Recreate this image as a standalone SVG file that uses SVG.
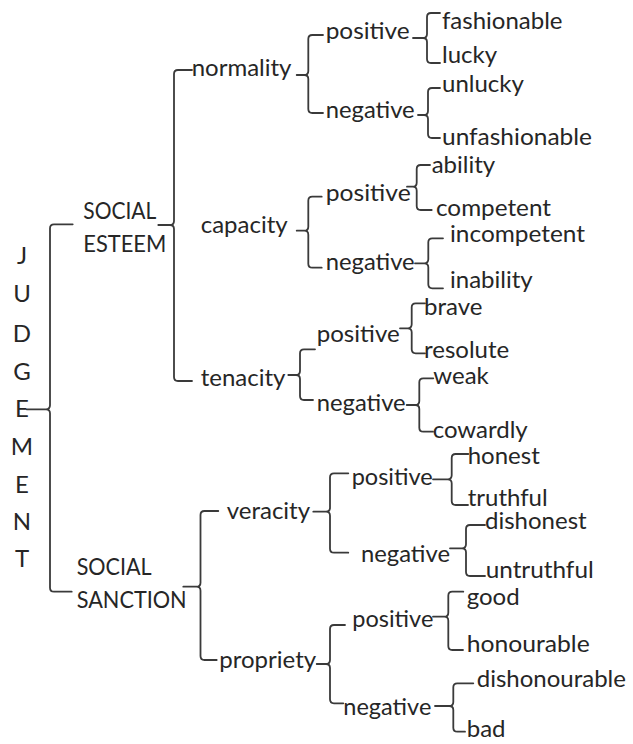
<svg xmlns="http://www.w3.org/2000/svg" width="633" height="744" viewBox="0 0 633 744">
  <style>
    text { font-family: Lato, "Liberation Sans", sans-serif; font-size: 24px; fill: #262626; }
    .mid { text-anchor: middle; }
    .brace { fill: none; stroke: #3a3a3a; stroke-width: 1.8; stroke-linecap: round; stroke-linejoin: round; }
  </style>
  <rect width="633" height="744" fill="#ffffff"/>

  <!-- curly-brace connectors -->
  <g id="connectors">
    <path class="brace" d="M72.7 224.3 H54 Q50 224.3 50 228.3 V405.3 Q50 409.3 46 409.3 H26.7 M46 409.3 Q50 409.3 50 413.3 V587.7 Q50 591.7 54 591.7 H71.7"/>
    <path class="brace" d="M192 70 H178 Q174 70 174 74 V221 Q174 225 170 225 H158.3 M170 225 Q174 225 174 229 V377 Q174 381 178 381 H192"/>
    <path class="brace" d="M323 35 H312.3 Q308.3 35 308.3 39 V71 Q308.3 75 304.3 75 H296.7 M304.3 75 Q308.3 75 308.3 79 V109 Q308.3 113 312.3 113 H323"/>
    <path class="brace" d="M440 13 H431 Q427 13 427 17 V34 Q427 38 423 38 H413 M423 38 Q427 38 427 42 V59 Q427 63 431 63 H440"/>
    <path class="brace" d="M440 88 H432 Q428 88 428 92 V111 Q428 115 424 115 H418 M424 115 Q428 115 428 119 V134 Q428 138 432 138 H440"/>
    <path class="brace" d="M321.7 196.7 H312.3 Q308.3 196.7 308.3 200.7 V226.7 Q308.3 230.7 304.3 230.7 H296.7 M304.3 230.7 Q308.3 230.7 308.3 234.7 V263.7 Q308.3 267.7 312.3 267.7 H321.7"/>
    <path class="brace" d="M430 165 H420.7 Q416.7 165 416.7 169 V182.7 Q416.7 186.7 412.7 186.7 H407 M412.7 186.7 Q416.7 186.7 416.7 190.7 V206 Q416.7 210 420.7 210 H431.7"/>
    <path class="brace" d="M443 238.3 H432.3 Q428.3 238.3 428.3 242.3 V259.3 Q428.3 263.3 424.3 263.3 H415 M424.3 263.3 Q428.3 263.3 428.3 267.3 V284.3 Q428.3 288.3 432.3 288.3 H443"/>
    <path class="brace" d="M315 349.3 H304 Q300 349.3 300 353.3 V371 Q300 375 296 375 H288.3 M296 375 Q300 375 300 379 V396 Q300 400 304 400 H313"/>
    <path class="brace" d="M425 303.3 H415.7 Q411.7 303.3 411.7 307.3 V324.3 Q411.7 328.3 407.7 328.3 H400 M407.7 328.3 Q411.7 328.3 411.7 332.3 V349.3 Q411.7 353.3 415.7 353.3 H425"/>
    <path class="brace" d="M433.3 378.3 H423.3 Q419.3 378.3 419.3 382.3 V401 Q419.3 405 415.3 405 H406.7 M415.3 405 Q419.3 405 419.3 409 V427.7 Q419.3 431.7 423.3 431.7 H433"/>
    <path class="brace" d="M218.3 511 H204.5 Q200.5 511 200.5 515 V582.7 Q200.5 586.7 196.5 586.7 H183.3 M196.5 586.7 Q200.5 586.7 200.5 590.7 V656 Q200.5 660 204.5 660 H216.7"/>
    <path class="brace" d="M348.3 473.3 H334 Q330 473.3 330 477.3 V507.7 Q330 511.7 326 511.7 H313.3 M326 511.7 Q330 511.7 330 515.7 V548.7 Q330 552.7 334 552.7 H348.3"/>
    <path class="brace" d="M468.3 454 H455.7 Q451.7 454 451.7 458 V475.3 Q451.7 479.3 447.7 479.3 H433 M447.7 479.3 Q451.7 479.3 451.7 483.3 V501 Q451.7 505 455.7 505 H468"/>
    <path class="brace" d="M485 525 H470 Q466 525 466 529 V544.3 Q466 548.3 462 548.3 H450 M462 548.3 Q466 548.3 466 552.3 V572 Q466 576 470 576 H485"/>
    <path class="brace" d="M345 625 H334 Q330 625 330 629 V660 Q330 664 326 664 H316.7 M326 664 Q330 664 330 668 V699.3 Q330 703.3 334 703.3 H343.3"/>
    <path class="brace" d="M463.3 591.7 H452.3 Q448.3 591.7 448.3 595.7 V612.7 Q448.3 616.7 444.3 616.7 H433 M444.3 616.7 Q448.3 616.7 448.3 620.7 V646 Q448.3 650 452.3 650 H463"/>
    <path class="brace" d="M473.3 683.3 H457.3 Q453.3 683.3 453.3 687.3 V702 Q453.3 706 449.3 706 H435 M449.3 706 Q453.3 706 453.3 710 V727.7 Q453.3 731.7 457.3 731.7 H465"/>
  </g>

  <!-- root, written vertically -->
  <g id="judgement">
    <text class="mid" x="22" y="263.5">J</text>
    <text class="mid" x="22" y="301.7">U</text>
    <text class="mid" x="22" y="341.7">D</text>
    <text class="mid" x="22" y="380">G</text>
    <text class="mid" x="22" y="416.7">E</text>
    <text class="mid" x="22" y="455">M</text>
    <text class="mid" x="22" y="493.3">E</text>
    <text class="mid" x="22" y="530">N</text>
    <text class="mid" x="22" y="566.7">T</text>
  </g>

  <g id="social-esteem">
    <text x="83.3" y="219.3" textLength="73" lengthAdjust="spacingAndGlyphs">SOCIAL</text>
    <text x="83.3" y="251.7" textLength="83" lengthAdjust="spacingAndGlyphs">ESTEEM</text>
  </g>
  <g id="social-sanction">
    <text x="76.7" y="575" textLength="75" lengthAdjust="spacingAndGlyphs">SOCIAL</text>
    <text x="76.7" y="607.7" textLength="110" lengthAdjust="spacingAndGlyphs">SANCTION</text>
  </g>

  <g id="normality"><text x="191.7" y="76">normality</text></g>
  <g id="capacity"><text x="200.7" y="232.7">capacity</text></g>
  <g id="tenacity"><text x="200.7" y="385.7">tenacity</text></g>
  <g id="veracity"><text x="226.7" y="519">veracity</text></g>
  <g id="propriety"><text x="219.3" y="668.3">propriety</text></g>

  <g id="normality-positive"><text x="325.7" y="39.3" textLength="84" lengthAdjust="spacingAndGlyphs">positive</text></g>
  <g id="normality-negative"><text x="325.7" y="118" textLength="89" lengthAdjust="spacingAndGlyphs">negative</text></g>
  <g id="capacity-positive"><text x="325.7" y="201" textLength="85" lengthAdjust="spacingAndGlyphs">positive</text></g>
  <g id="capacity-negative"><text x="325.7" y="270" textLength="89" lengthAdjust="spacingAndGlyphs">negative</text></g>
  <g id="tenacity-positive"><text x="316.7" y="341.7" textLength="83" lengthAdjust="spacingAndGlyphs">positive</text></g>
  <g id="tenacity-negative"><text x="316.7" y="410.7" textLength="89" lengthAdjust="spacingAndGlyphs">negative</text></g>
  <g id="veracity-positive"><text x="351.7" y="485" textLength="81" lengthAdjust="spacingAndGlyphs">positive</text></g>
  <g id="veracity-negative"><text x="361" y="561.7" textLength="89" lengthAdjust="spacingAndGlyphs">negative</text></g>
  <g id="propriety-positive"><text x="352.3" y="626.7" textLength="81" lengthAdjust="spacingAndGlyphs">positive</text></g>
  <g id="propriety-negative"><text x="343.3" y="715" textLength="88" lengthAdjust="spacingAndGlyphs">negative</text></g>

  <g id="fashionable"><text x="442" y="29">fashionable</text></g>
  <g id="lucky"><text x="442" y="63">lucky</text></g>
  <g id="unlucky"><text x="442" y="92">unlucky</text></g>
  <g id="unfashionable"><text x="442" y="145" textLength="150" lengthAdjust="spacingAndGlyphs">unfashionable</text></g>
  <g id="ability"><text x="431.7" y="173.3">ability</text></g>
  <g id="competent"><text x="436" y="216" textLength="115" lengthAdjust="spacingAndGlyphs">competent</text></g>
  <g id="incompetent"><text x="450" y="241.7" textLength="135" lengthAdjust="spacingAndGlyphs">incompetent</text></g>
  <g id="inability"><text x="450" y="288.3">inability</text></g>
  <g id="brave"><text x="424" y="315">brave</text></g>
  <g id="resolute"><text x="424" y="357.5">resolute</text></g>
  <g id="weak"><text x="433.3" y="384">weak</text></g>
  <g id="cowardly"><text x="432.7" y="438.3">cowardly</text></g>
  <g id="honest"><text x="467.7" y="464">honest</text></g>
  <g id="truthful"><text x="467.7" y="505.5">truthful</text></g>
  <g id="dishonest"><text x="485" y="528.5">dishonest</text></g>
  <g id="untruthful"><text x="485.7" y="578.3" textLength="108" lengthAdjust="spacingAndGlyphs">untruthful</text></g>
  <g id="good"><text x="466.7" y="605">good</text></g>
  <g id="honourable"><text x="466.7" y="651.7" textLength="123" lengthAdjust="spacingAndGlyphs">honourable</text></g>
  <g id="dishonourable"><text x="476.7" y="687.3">dishonourable</text></g>
  <g id="bad"><text x="466.7" y="736.7">bad</text></g>
</svg>
